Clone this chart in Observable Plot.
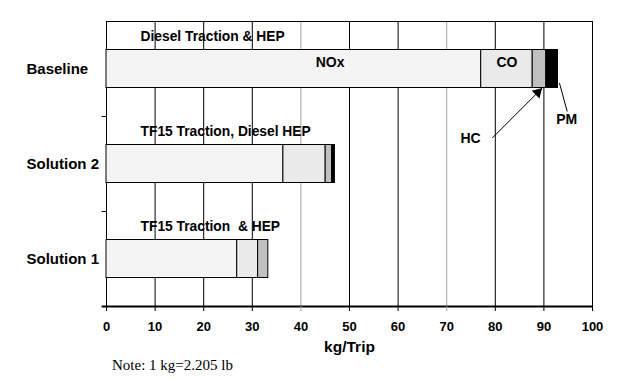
<!DOCTYPE html>
<html>
<head>
<meta charset="utf-8">
<script src="https://cdn.jsdelivr.net/npm/d3@7"></script>
<script src="https://cdn.jsdelivr.net/npm/@observablehq/plot@0.6"></script>
<style>
  body { margin: 0; background: white; }
  #wrap { position: relative; width: 631px; height: 378px; }
  #note { position: absolute; left: 112px; top: 357px; font-family: "Liberation Serif", "Times New Roman", serif; font-size: 15px; line-height: 17px; color: black; }
</style>
</head>
<body>
<div id="wrap"><div id="chart"></div><div id="note">Note: 1 kg=2.205 lb</div></div>
<script>
// ---- data ----
const categories = ["Solution 1", "Solution 2", "Baseline"];
const scenarioTitles = ["TF15 Traction  & HEP", "TF15 Traction, Diesel HEP", "Diesel Traction & HEP"];
const pollutants = ["NOx", "CO", "HC", "PM"];
const noxValues = [26.9, 36.4, 77.1];
const coValues = [4.3, 8.7, 10.6];
const hcValues = [2.1, 1.3, 2.8];
const pmValues = [0, 0.6, 2.4];
const xTicks = [0, 10, 20, 30, 40, 50, 60, 70, 80, 90, 100];
const grayTicks = [40, 70];

// ---- build table ----
const series = [noxValues, coValues, hcValues, pmValues];
const rows = [];
categories.forEach((cat, i) => {
  let acc = 0;
  pollutants.forEach((p, j) => {
    const v = series[j][i];
    if (v > 0) rows.push({cat, pollutant: p, x1: acc, x2: acc + v, y: i + 0.5});
    acc += v;
  });
});
const titles = categories.map((c, i) => ({title: scenarioTitles[i], y: i + 0.5}));
const baseIdx = 2;
const baseRows = rows.filter(r => r.cat === "Baseline");
const coRow = baseRows.find(r => r.pollutant === "CO");
const pmRow = baseRows.find(r => r.pollutant === "PM");
const barHalf = 0.2;

const font = "Liberation Sans, Arial, Helvetica, sans-serif";

const chart = Plot.plot({
  width: 631,
  height: 360,
  marginTop: 21,
  marginRight: 39,
  marginBottom: 54,
  marginLeft: 106,
  x: {domain: [0, 100]},
  y: {domain: [0, 3]},
  color: {domain: pollutants, range: ["#f4f4f4", "#eaeaea", "#c0c0c0", "#000000"]},
  style: {fontFamily: font, background: "white", color: "black", whiteSpace: "pre"},
  marks: [
    Plot.ruleX(xTicks.filter(t => t > 0 && t < 100), {
      stroke: d => grayTicks.includes(d) ? "#a0a0a0" : "black", strokeWidth: 1
    }),
    Plot.frame({stroke: "black", strokeWidth: 1}),
    Plot.rect(rows, {
      x1: "x1", x2: "x2",
      y1: d => d.y - barHalf, y2: d => d.y + barHalf,
      fill: "pollutant", stroke: "black", strokeWidth: 1
    }),
    Plot.ruleY([0], {stroke: "black", strokeWidth: 2, x1: -0.9, x2: 100}),
    Plot.ruleY([1, 2], {stroke: "black", strokeWidth: 1, x1: -0.9, x2: 0}),
    Plot.axisX({
      ticks: xTicks, tickSize: 5, tickPadding: 10,
      stroke: d => grayTicks.includes(d) ? "#a0a0a0" : "black",
      fontSize: 13, fontWeight: "bold", label: null, tickFormat: d => String(d)
    }),
    Plot.text(["kg/Trip"], {frameAnchor: "bottom", dy: 45, fontSize: 15.5, fontWeight: "bold"}),
    Plot.axisY({
      ticks: categories.map((c, i) => i + 0.5), tickSize: 0, tickPadding: 80,
      textAnchor: "start", fontSize: 15, fontWeight: "bold", label: null,
      tickFormat: d => categories[Math.floor(d)]
    }),
    Plot.text(titles, {x: 7, y: d => d.y + barHalf, dy: -13, text: "title", textAnchor: "start",
      fontSize: 13.8, fontWeight: "bold"}),
    Plot.text(["NOx"], {x: 46, y: baseIdx + 0.5, dy: -6, fontSize: 14, fontWeight: "bold"}),
    Plot.text(["CO"], {x: (coRow.x1 + coRow.x2) / 2, y: baseIdx + 0.5, dy: -6, fontSize: 14, fontWeight: "bold"}),
    Plot.text(["HC"], {x: 74.9, y: 1.772, fontSize: 14, fontWeight: "bold"}),
    Plot.link([0], {x1: 79.4, y1: 1.775, x2: 89.65, y2: baseIdx + 0.5 - barHalf, stroke: "black", strokeWidth: 1}),
    Plot.dot([0], {x: 89.65, y: baseIdx + 0.5 - barHalf, dx: -4.4, dy: 4.4, symbol: "triangle", r: 4,
      rotate: 45, fill: "black", stroke: "none"}),
    Plot.text(["PM"], {x: 94.7, y: 1.965, fontSize: 14, fontWeight: "bold"}),
    Plot.link([0], {x1: pmRow.x2 + 0.3, y1: 2.352, x2: 94.8, y2: 2.052, stroke: "black", strokeWidth: 1})
  ]
});
document.getElementById("chart").appendChild(chart);
</script>
</body>
</html>
